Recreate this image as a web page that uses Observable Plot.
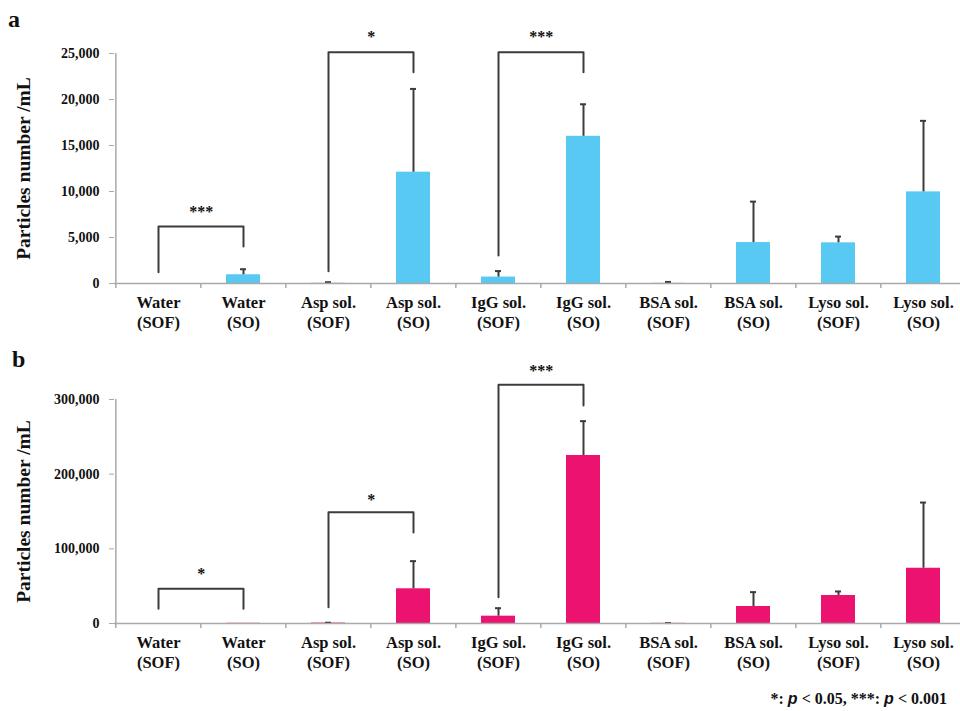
<!DOCTYPE html>
<html>
<head>
<meta charset="utf-8">
<script src="https://cdn.jsdelivr.net/npm/d3@7"></script>
<script src="https://cdn.jsdelivr.net/npm/@observablehq/plot@0.6"></script>
<style>
  body { margin: 0; background: #fff; }
  #wrap { position: relative; width: 960px; height: 711px; overflow: hidden; font-family: "Liberation Serif", "Times New Roman", serif; color: #111; }
  #wrap svg { position: absolute; left: 0; }
  .letter { position: absolute; font-weight: bold; font-size: 24px; line-height: 24px; }
  #note { position: absolute; right: 13px; top: 690px; font-weight: bold; font-size: 16px; white-space: nowrap; }
  #note i { font-family: "Liberation Sans", Arial, sans-serif; font-style: italic; }
</style>
</head>
<body>
<div id="wrap">
  <div class="letter" style="left:8px;top:7px;">a</div>
  <div class="letter" style="left:12px;top:347px;">b</div>
  <div id="note">*: <i>p</i> &lt; 0.05, ***: <i>p</i> &lt; 0.001</div>
</div>
<script>
// ---- data ----
const categories = ["Water (SOF)", "Water (SO)", "Asp sol. (SOF)", "Asp sol. (SO)", "IgG sol. (SOF)",
                    "IgG sol. (SO)", "BSA sol. (SOF)", "BSA sol. (SO)", "Lyso sol. (SOF)", "Lyso sol. (SO)"];

// panel a (particles / mL)
const valuesA = [0, 950, 30, 12100, 700, 16000, 20, 4450, 4420, 9960];
const errorsA = [0, 600, 110, 9050, 650, 3480, 150, 4450, 680, 7720];
const ticksA = [0, 5000, 10000, 15000, 20000, 25000];
const sigFromA = ["Water (SOF)", "Asp sol. (SOF)", "IgG sol. (SOF)"];
const sigToA = ["Water (SO)", "Asp sol. (SO)", "IgG sol. (SO)"];
const sigLowFromA = [1230, 1340, 3040];
const sigTopA = [6200, 25140, 25140];
const sigLowToA = [4020, 22970, 22970];
const sigTextYA = [7830, 26850, 26850];
const sigLabelA = ["***", "*", "***"];

// panel b (particles / mL)
const valuesB = [0, 300, 600, 46500, 9800, 225000, 200, 22800, 37500, 74000];
const errorsB = [0, 0, 500, 37000, 10700, 46000, 400, 19200, 5400, 88000];
const ticksB = [0, 100000, 200000, 300000];
const sigFromB = ["Water (SOF)", "Asp sol. (SOF)", "IgG sol. (SOF)"];
const sigToB = ["Water (SO)", "Asp sol. (SO)", "IgG sol. (SO)"];
const sigLowFromB = [19700, 21800, 35200];
const sigTopB = [46500, 149000, 319700];
const sigLowToB = [19700, 122000, 292000];
const sigTextYB = [67000, 165700, 338800];
const sigLabelB = ["*", "*", "***"];

const yTitle = "Particles number /mL";
const serif = "'Liberation Serif', 'Times New Roman', serif";

function panel(o) {
  const W = 960, H = 340, left = 114, right = 967;
  const n = categories.length;
  const step = (right - left) / n;
  const rows = categories.map((c, i) => ({c, v: o.values[i], e: o.errors[i]}));
  const withErr = rows.filter(d => d.e > 0);
  const plotH = H - o.marginTop - o.marginBottom;
  const tickLen = o.yMax * 5 / plotH;
  const sig = o.from.map((f, k) => ({k, from: f, to: o.to[k], low1: o.low1[k], top: o.top[k], low2: o.low2[k], ty: o.textY[k], label: o.labels[k]}));
  const bracketPts = sig.flatMap(s => [
    {k: s.k, c: s.from, y: s.low1},
    {k: s.k, c: s.from, y: s.top},
    {k: s.k, c: s.to, y: s.top},
    {k: s.k, c: s.to, y: s.low2}
  ]);
  const axisGray = "#a9a9a9";
  const dark = "#3c3c3c";
  return Plot.plot({
    width: W, height: H,
    marginTop: o.marginTop, marginBottom: o.marginBottom, marginLeft: left, marginRight: 0,
    style: {fontFamily: serif, color: "#111", background: "transparent", overflow: "hidden"},
    x: {domain: categories, range: [left, right], paddingInner: 0.6, paddingOuter: 0.3, axis: null},
    y: {domain: [0, o.yMax], axis: null},
    marks: [
      Plot.barY(rows, {x: "c", y: "v", fill: o.color}),
      Plot.ruleX(withErr, {x: "c", y1: "v", y2: d => d.v + d.e, stroke: dark, strokeWidth: 2}),
      Plot.tickY(withErr, {x: "c", y: d => d.v + d.e, stroke: dark, strokeWidth: 2, insetLeft: 14, insetRight: 14}),
      // axis lines and boundary ticks
      Plot.ruleY([0], {stroke: axisGray, strokeWidth: 1.5}),
      Plot.ruleX([categories[0]], {x: d => d, dx: -step / 2, y1: 0, y2: o.yMax, stroke: axisGray, strokeWidth: 1.5}),
      Plot.ruleX(categories, {x: d => d, dx: -step / 2, y1: 0, y2: -tickLen, stroke: axisGray, strokeWidth: 1.5}),
      Plot.axisY({ticks: o.ticks, tickFormat: d3.format(","), tickSize: 5, tickPadding: 10, stroke: axisGray, fill: "#111",
                  fontSize: 14, fontWeight: "bold", fontFamily: serif, label: null}),
      Plot.text([yTitle], {frameAnchor: "left", textAnchor: "middle", rotate: -90, dx: -91,
                           fontSize: 19.5, fontWeight: "bold", fontFamily: serif, fill: "#111"}),
      Plot.text(categories, {x: d => d, text: d => d.replace(" (", "\n("), frameAnchor: "bottom", lineAnchor: "top",
                             dy: 11, fontSize: 16.5, fontWeight: "bold", fontFamily: serif, lineHeight: 1.18, fill: "#111"}),
      // significance brackets
      Plot.line(bracketPts, {x: "c", y: "y", z: "k", stroke: dark, strokeWidth: 2}),
      Plot.text(sig, {x: "from", y: "ty", text: "label", dx: step / 2, fontSize: 16, fontWeight: "bold", fontFamily: serif, fill: "#111"})
    ]
  });
}

const wrap = document.getElementById("wrap");
const a = panel({values: valuesA, errors: errorsA, ticks: ticksA, yMax: 25000, color: "#58c9f2",
                 marginTop: 53, marginBottom: 57,
                 from: sigFromA, to: sigToA, low1: sigLowFromA, top: sigTopA, low2: sigLowToA, textY: sigTextYA, labels: sigLabelA});
a.style.top = "0px";
wrap.appendChild(a);
const b = panel({values: valuesB, errors: errorsB, ticks: ticksB, yMax: 300000, color: "#ec1270",
                 marginTop: 59, marginBottom: 57,
                 from: sigFromB, to: sigToB, low1: sigLowFromB, top: sigTopB, low2: sigLowToB, textY: sigTextYB, labels: sigLabelB});
b.style.top = "340px";
wrap.appendChild(b);
</script>
</body>
</html>
